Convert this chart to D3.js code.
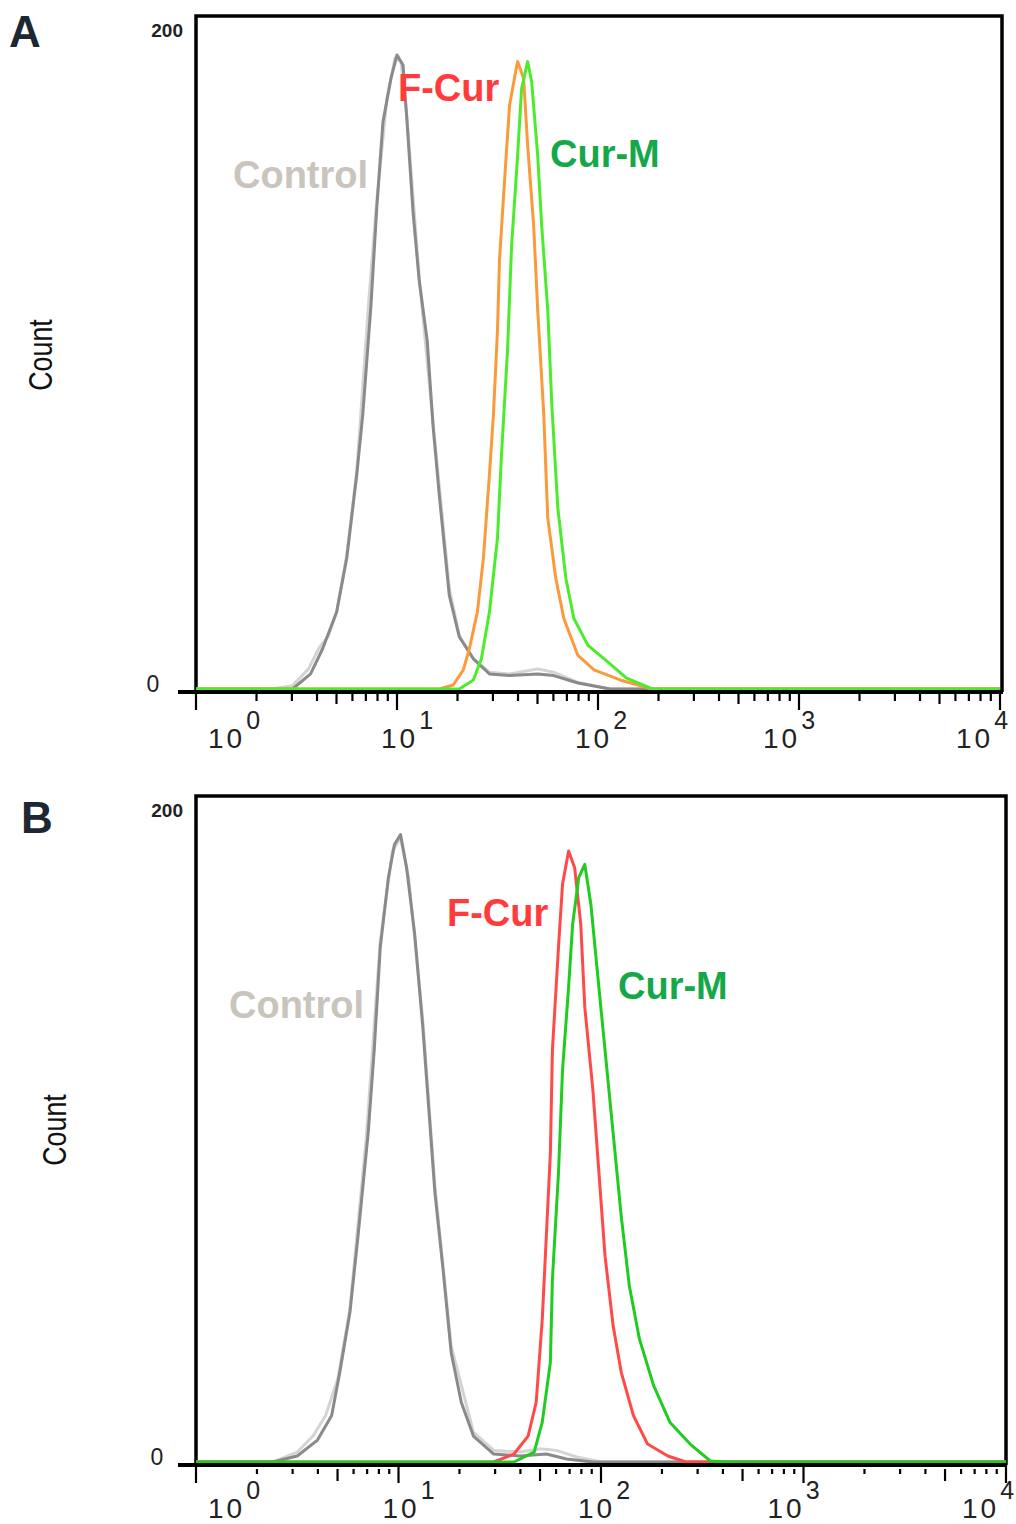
<!DOCTYPE html>
<html lang="en">
<head>
<meta charset="UTF-8">
<title>Flow cytometry histograms</title>
<script src="https://cdn.jsdelivr.net/npm/d3@7"></script>
<style>
  body { margin: 0; background: #fff; }
  text { font-family: "Liberation Sans", Arial, sans-serif; }
</style>
</head>
<body>
<script>
var W = 1016, H = 1524

// axis labels: decades 10^0 .. 10^4, count 0 .. 200
var decades = [0, 1, 2, 3, 4]
var countTicks = [0, 200]
var seriesNames = ['Control', 'F-Cur', 'Cur-M']

// panel A  (log10 fluorescence, count)
var aCtrlLog = [0, 0.38, 0.48, 0.57, 0.63, 0.70, 0.75, 0.80, 0.83, 0.87, 0.90, 0.93, 0.97, 1.00, 1.03, 1.05, 1.08, 1.11, 1.15, 1.18, 1.21, 1.26, 1.31, 1.38, 1.46, 1.56, 1.70, 1.78, 1.90, 2.06, 4]
var aCtrlCount = [0, 0, 0, 4.5, 12, 23, 39, 64, 82, 114, 144, 169, 182, 189, 186, 169, 142, 122, 104, 78, 58, 28, 15.5, 9, 4.5, 4, 4.5, 4, 1.8, 0, 0]
var aCtrl2Log = [0, 0.38, 0.48, 0.56, 0.61, 0.66, 0.70, 0.75, 0.80, 0.86, 0.90, 0.95, 0.99, 1.02, 1.05, 1.11, 1.18, 1.26, 1.31, 1.38, 1.46, 1.56, 1.70, 1.78, 1.90, 2.06, 4]
var aCtrl2Count = [0, 0, 1, 6, 12, 16, 23, 40, 65, 116, 146, 176, 188, 187, 170, 123, 79, 30, 16, 9, 5, 4.5, 6, 5, 2, 0, 0]
var aFcurLog = [0, 1.21, 1.28, 1.33, 1.36, 1.40, 1.43, 1.46, 1.48, 1.50, 1.51, 1.54, 1.56, 1.59, 1.60, 1.63, 1.65, 1.68, 1.70, 1.73, 1.75, 1.79, 1.83, 1.90, 1.98, 2.11, 2.27, 4]
var aFcurCount = [0, 0, 1.2, 5.7, 12, 23, 39, 64, 82, 107, 128, 156, 174, 184, 187, 182, 162, 138, 113, 82, 51, 33, 21, 10, 5.7, 2.7, 0, 0]
var aCurmLog = [0, 1.31, 1.38, 1.42, 1.46, 1.50, 1.52, 1.55, 1.57, 1.60, 1.62, 1.65, 1.67, 1.70, 1.72, 1.75, 1.77, 1.80, 1.84, 1.88, 1.95, 2.05, 2.14, 2.27, 4]
var aCurmCount = [0, 0, 2.7, 9, 23, 45, 70, 101, 132, 159, 179, 187, 181, 159, 138, 113, 85, 54, 33, 21, 13, 8, 3.3, 0, 0]

// panel B
var bCtrlLog = [0, 0.38, 0.50, 0.60, 0.67, 0.71, 0.76, 0.80, 0.85, 0.88, 0.91, 0.95, 0.98, 1.01, 1.04, 1.08, 1.12, 1.15, 1.18, 1.22, 1.26, 1.31, 1.37, 1.47, 1.60, 1.73, 1.83, 1.96, 4]
var bCtrlCount = [0, 0, 1.8, 6.6, 14, 27, 45, 68, 99, 124, 155, 176, 186, 189, 179, 159, 131, 106, 81, 58, 33, 18, 7.8, 2.4, 1.8, 2.4, 0.9, 0, 0]
var bCtrl2Log = [0, 0.38, 0.50, 0.58, 0.64, 0.70, 0.76, 0.84, 0.91, 0.97, 1.01, 1.05, 1.12, 1.18, 1.26, 1.37, 1.47, 1.60, 1.70, 1.78, 1.88, 2.0, 4]
var bCtrl2Count = [0, 0, 3, 8, 14, 25, 46, 97, 157, 184, 188, 176, 133, 83, 35, 9, 3.5, 3, 4, 3.5, 1.5, 0, 0]
var bFcurLog = [0, 1.47, 1.57, 1.64, 1.68, 1.71, 1.73, 1.75, 1.76, 1.79, 1.81, 1.84, 1.87, 1.90, 1.92, 1.96, 1.99, 2.02, 2.06, 2.10, 2.16, 2.23, 2.33, 2.42, 4]
var bFcurCount = [0, 0, 2.4, 7.8, 18, 43, 68, 93, 124, 155, 174, 184, 179, 162, 137, 112, 87, 62, 41, 27, 14, 5.4, 1.8, 0, 0]
var bCurmLog = [0, 1.57, 1.67, 1.71, 1.75, 1.76, 1.79, 1.81, 1.84, 1.86, 1.89, 1.92, 1.95, 1.98, 2.02, 2.06, 2.10, 2.14, 2.19, 2.26, 2.34, 2.44, 2.54, 2.62, 4]
var bCurmCount = [0, 0, 3, 12, 30, 55, 87, 118, 143, 162, 176, 180, 168, 149, 124, 99, 74, 53, 37, 23, 12, 5.4, 0.3, 0, 0]

function zip(xs, ys) { return xs.map(function (v, i) { return { x: Math.pow(10, v), y: ys[i] } }) }

var svg = d3.select('body').append('svg').attr('width', W).attr('height', H)

var panels = [
  {
    letter: 'A', letterX: 9, letterY: 47,
    left: 196, right: 1002, top: 16, bottom: 692, xEnd: 1000, y0: 689, y200: 18,
    countX: 40, countY: 355, minorLen: 9, minorGap: 0,
    tickLabelY: 748, zeroX: 153,
    lines: [
      { d: zip(aCtrl2Log, aCtrl2Count), c: '#d4d4d4' },
      { d: zip(aCtrlLog, aCtrlCount), c: '#8a8a8a' },
      { d: zip(aFcurLog, aFcurCount), c: '#fb9a3a' },
      { d: zip(aCurmLog, aCurmCount), c: '#4cec2c' }
    ],
    labels: [[233, 188], [398, 101], [550, 167]]
  },
  {
    letter: 'B', letterX: 21, letterY: 833,
    left: 196, right: 1006, top: 796, bottom: 1465, xEnd: 1006, y0: 1462, y200: 798,
    countX: 54, countY: 1130, minorLen: 5, minorGap: 4,
    tickLabelY: 1518, zeroX: 157,
    lines: [
      { d: zip(bCtrl2Log, bCtrl2Count), c: '#d4d4d4' },
      { d: zip(bCtrlLog, bCtrlCount), c: '#8a8a8a' },
      { d: zip(bFcurLog, bFcurCount), c: '#ff4a4a' },
      { d: zip(bCurmLog, bCurmCount), c: '#1fcc1f' }
    ],
    labels: [[229, 1018], [447, 926], [618, 999]]
  }
]
var labelColors = ['#c9c4bc', '#ff3b3b', '#14a84a']
// small shifts of the "10^n" labels relative to their tick
var labelShift = [12, -16, -23, -36, -44]

panels.forEach(function (p) {
  var x = d3.scaleLog().domain([1, 1e4]).range([p.left, p.xEnd])
  var y = d3.scaleLinear().domain([0, 200]).range([p.y0, p.y200])
  var g = svg.append('g')

  // frame
  g.append('path')
    .attr('d', 'M' + p.left + ',' + p.bottom + 'V' + p.top + 'H' + p.right + 'V' + p.bottom)
    .attr('fill', 'none').attr('stroke', '#000').attr('stroke-width', 3.5)

  // histograms
  var line = d3.line()
    .x(function (d) { return x(d.x) })
    .y(function (d) { return y(d.y) })
  p.lines.forEach(function (s) {
    g.append('path').datum(s.d).attr('d', line)
      .attr('fill', 'none').attr('stroke', s.c).attr('stroke-width', 3)
      .attr('stroke-linejoin', 'round')
  })

  // x axis line + ticks
  g.append('line').attr('x1', 178).attr('x2', p.right + 1)
    .attr('y1', p.bottom).attr('y2', p.bottom).attr('stroke', '#000').attr('stroke-width', 4)
  var ticks = []
  decades.forEach(function (e) {
    for (var m = 1; m <= 9; m++) {
      if (e === 4 && m > 1) break
      ticks.push({ v: m * Math.pow(10, e), m: m })
    }
  })
  g.selectAll('.tick').data(ticks).enter().append('line')
    .attr('x1', function (d) { return x(d.v) }).attr('x2', function (d) { return x(d.v) })
    .attr('y1', function (d) { return p.bottom + (d.m === 1 ? 0 : p.minorGap) })
    .attr('y2', function (d) { return p.bottom + (d.m === 1 ? 18 : d.m === 5 ? 12 + p.minorGap : p.minorLen + p.minorGap) })
    .attr('stroke', '#000').attr('stroke-width', 2.2)

  // 10^n labels
  var lab = g.selectAll('.dec').data(decades).enter().append('text')
    .attr('x', function (d, i) { return x(Math.pow(10, d)) + labelShift[i] })
    .attr('y', p.tickLabelY)
    .attr('font-size', 28).attr('letter-spacing', 3).attr('fill', '#222')
  lab.append('tspan').text('10')
  lab.append('tspan').attr('dy', -19).attr('dx', 1).attr('font-size', 25).text(function (d) { return d })

  // count labels
  g.append('text').attr('x', 183).attr('y', p.top + 21).attr('text-anchor', 'end')
    .attr('font-size', 19).attr('font-weight', 'bold').attr('fill', '#222').text(countTicks[1])
  g.append('text').attr('x', p.zeroX).attr('y', y(0) + 3).attr('text-anchor', 'middle')
    .attr('font-size', 23).attr('fill', '#222').text(countTicks[0])

  g.append('text')
    .attr('transform', 'translate(' + (p.countX + 12) + ',' + p.countY + ') rotate(-90) scale(0.79,1)')
    .attr('text-anchor', 'middle').attr('font-size', 34).attr('fill', '#111').text('Count')

  // panel letter
  g.append('text').attr('x', p.letterX).attr('y', p.letterY)
    .attr('font-size', 44).attr('font-weight', 'bold').attr('fill', '#1b2733').text(p.letter)

  // series labels
  p.labels.forEach(function (pos, i) {
    g.append('text').attr('x', pos[0]).attr('y', pos[1])
      .attr('font-size', 38).attr('font-weight', 'bold').attr('fill', labelColors[i])
      .text(seriesNames[i])
  })
})
</script>
</body>
</html>
